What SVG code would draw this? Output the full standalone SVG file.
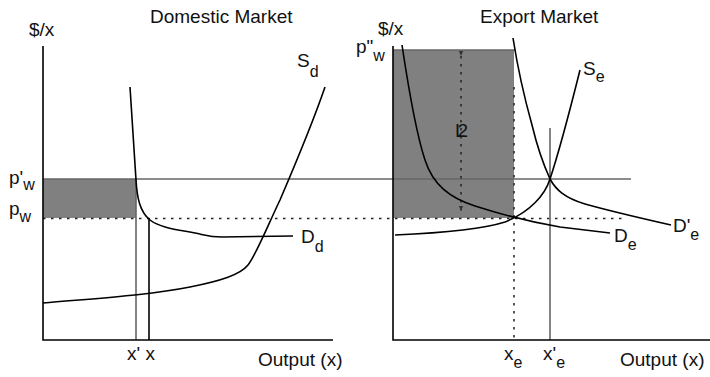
<svg xmlns="http://www.w3.org/2000/svg" width="710" height="377" viewBox="0 0 710 377">
<style>
text{font-family:"Liberation Sans",Arial,sans-serif;font-size:19px;fill:#111}
.sub{font-size:16px}
.axis{stroke:#000;stroke-width:1.6;fill:none}
.curve{stroke:#000;stroke-width:1.6;fill:none}
.gray{stroke:#666;stroke-width:1.6;fill:none}
.dot{stroke:#222;stroke-width:1.5;stroke-dasharray:2.5,5.5;fill:none}
.shade{fill:#808080}
</style>
<defs>
<marker id="ah" viewBox="0 0 8 8" refX="7" refY="4" markerWidth="6" markerHeight="6" orient="auto" markerUnits="userSpaceOnUse">
<path d="M0,1 L7,4 L0,7 Z" fill="#333"/>
</marker>
</defs>
<rect width="710" height="377" fill="#fff"/>

<g id="shading">
<rect class="shade" x="43" y="179" width="93" height="39"/>
<rect class="shade" x="393" y="50" width="121" height="168"/>
</g>

<g id="connectors">
<line class="gray" x1="43" y1="179" x2="631" y2="179"/>
<line class="dot" x1="43" y1="218.5" x2="623" y2="218.5"/>
<line class="gray" x1="393" y1="50" x2="515" y2="50" stroke-width="2"/>
<line class="gray" x1="136" y1="179" x2="136" y2="340"/>
<line class="curve" x1="149" y1="218" x2="149" y2="340" stroke-width="1.3"/>
<line class="dot" x1="514" y1="87" x2="514" y2="340" stroke="#000"/>
<line class="gray" x1="550" y1="128" x2="550" y2="340"/>
<line class="dot" x1="461" y1="56" x2="461" y2="211" stroke="#444" marker-start="url(#ah)" marker-end="url(#ah)"/>
</g>

<g id="axes">
<polyline class="axis" points="43,46 43,340 333,340"/>
<polyline class="axis" points="393,46 393,340 710,340"/>
</g>

<g id="Dd">
<path class="curve" d="M130,87 L136,180 C137,198 140,212 150,220 C160,228 180,230 195,233 C205,235 210,237 222,237 L293,236"/>
</g>
<g id="Sd">
<path class="curve" d="M43,303 C100,298 150,295 190,287 C220,281 240,275 248,265 C256,255 268,225 280,200 C295,165 312,125 325,87"/>
</g>
<g id="Se">
<path class="curve" d="M395,235 C440,233 480,230 505,222 C530,212 545,195 550,179 C557,158 570,110 580,70"/>
</g>
<g id="De">
<path class="curve" d="M402,45 C408,85 415,130 425,160 C433,185 450,198 475,206 C500,214 530,222 560,227 L610,233"/>
</g>
<g id="Dpe">
<path class="curve" d="M513,38 C518,70 525,100 532,125 C538,150 545,168 550,179 C556,190 565,198 585,204 C610,211 640,218 671,225"/>
</g>

<g id="labels">
<text x="150" y="23">Domestic Market</text>
<text x="480" y="23">Export Market</text>
<text x="29" y="36">$/x</text>
<text x="378" y="35">$/x</text>
<text x="356" y="53">p"<tspan class="sub" dy="8">w</tspan></text>
<text x="297" y="67">S<tspan class="sub" dy="10">d</tspan></text>
<text x="583" y="75">S<tspan class="sub" dy="7">e</tspan></text>
<text x="9" y="184">p'<tspan class="sub" dy="6">w</tspan></text>
<text x="9" y="215">p<tspan class="sub" dy="7">w</tspan></text>
<text x="301" y="243">D<tspan class="sub" dy="9">d</tspan></text>
<text x="614" y="242">D<tspan class="sub" dy="8">e</tspan></text>
<text x="673" y="232">D'<tspan class="sub" dy="8">e</tspan></text>
<text x="455" y="137" font-size="18" letter-spacing="-8">L2</text>
<text x="127" y="360">x' x</text>
<text x="258" y="366">Output (x)</text>
<text x="504" y="360">x<tspan class="sub" dy="8">e</tspan></text>
<text x="543" y="360">x'<tspan class="sub" dy="8">e</tspan></text>
<text x="620" y="366">Output (x)</text>
</g>
</svg>
